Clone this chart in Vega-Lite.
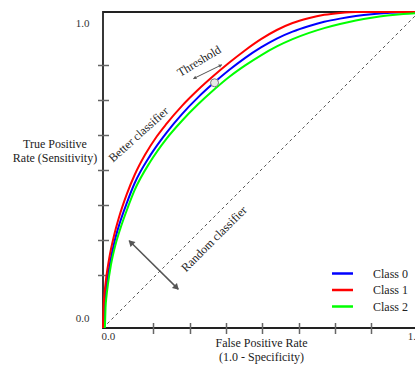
{
  "$schema": "https://vega.github.io/schema/vega-lite/v6.json",
  "width": 316,
  "height": 316,
  "autosize": {"type": "none"},
  "padding": {"left": 103, "top": 12, "right": 0, "bottom": 37},
  "background": "white",
  "config": {
    "font": "Liberation Serif",
    "view": {"stroke": "#222", "strokeWidth": 1.8},
    "axis": {"grid": false, "domain": false, "labelFont": "Liberation Serif", "titleFont": "Liberation Serif", "labelColor": "#333", "titleColor": "#222", "labelFontSize": 11, "titleFontSize": 12, "titleFontWeight": "normal", "tickColor": "#666", "tickWidth": 1.5, "tickSize": 11, "offset": -5.5, "labelOverlap": false, "tickCount": 20},
    "legend": {"labelFont": "Liberation Serif", "labelFontSize": 12, "labelColor": "#222"}
  },
  "datasets": {
    "curves": [
      {"series": "Class 0", "x": 0.003, "y": 0.0},
      {"series": "Class 0", "x": 0.005, "y": 0.066},
      {"series": "Class 0", "x": 0.008, "y": 0.105},
      {"series": "Class 0", "x": 0.013, "y": 0.149},
      {"series": "Class 0", "x": 0.023, "y": 0.21},
      {"series": "Class 0", "x": 0.037, "y": 0.276},
      {"series": "Class 0", "x": 0.052, "y": 0.329},
      {"series": "Class 0", "x": 0.077, "y": 0.4},
      {"series": "Class 0", "x": 0.1, "y": 0.458},
      {"series": "Class 0", "x": 0.15, "y": 0.547},
      {"series": "Class 0", "x": 0.2, "y": 0.617},
      {"series": "Class 0", "x": 0.25, "y": 0.677},
      {"series": "Class 0", "x": 0.3, "y": 0.729},
      {"series": "Class 0", "x": 0.35, "y": 0.775},
      {"series": "Class 0", "x": 0.4, "y": 0.817},
      {"series": "Class 0", "x": 0.45, "y": 0.855},
      {"series": "Class 0", "x": 0.5, "y": 0.888},
      {"series": "Class 0", "x": 0.55, "y": 0.916},
      {"series": "Class 0", "x": 0.6, "y": 0.938},
      {"series": "Class 0", "x": 0.65, "y": 0.955},
      {"series": "Class 0", "x": 0.7, "y": 0.969},
      {"series": "Class 0", "x": 0.75, "y": 0.979},
      {"series": "Class 0", "x": 0.8, "y": 0.987},
      {"series": "Class 0", "x": 0.85, "y": 0.993},
      {"series": "Class 0", "x": 0.9, "y": 0.997},
      {"series": "Class 0", "x": 0.95, "y": 0.999},
      {"series": "Class 0", "x": 1.0, "y": 1.0},
      {"series": "Class 1", "x": 0.0, "y": 0.0},
      {"series": "Class 1", "x": 0.002, "y": 0.0707},
      {"series": "Class 1", "x": 0.005, "y": 0.1116},
      {"series": "Class 1", "x": 0.01, "y": 0.1576},
      {"series": "Class 1", "x": 0.02, "y": 0.2222},
      {"series": "Class 1", "x": 0.035, "y": 0.2926},
      {"series": "Class 1", "x": 0.05, "y": 0.348},
      {"series": "Class 1", "x": 0.075, "y": 0.4227},
      {"series": "Class 1", "x": 0.1, "y": 0.4841},
      {"series": "Class 1", "x": 0.133, "y": 0.548},
      {"series": "Class 1", "x": 0.17, "y": 0.606},
      {"series": "Class 1", "x": 0.2, "y": 0.645},
      {"series": "Class 1", "x": 0.25, "y": 0.703},
      {"series": "Class 1", "x": 0.3, "y": 0.753},
      {"series": "Class 1", "x": 0.35, "y": 0.798},
      {"series": "Class 1", "x": 0.4, "y": 0.84},
      {"series": "Class 1", "x": 0.45, "y": 0.879},
      {"series": "Class 1", "x": 0.5, "y": 0.914},
      {"series": "Class 1", "x": 0.55, "y": 0.943},
      {"series": "Class 1", "x": 0.6, "y": 0.965},
      {"series": "Class 1", "x": 0.65, "y": 0.98},
      {"series": "Class 1", "x": 0.7, "y": 0.991},
      {"series": "Class 1", "x": 0.75, "y": 0.997},
      {"series": "Class 1", "x": 0.8, "y": 1.0},
      {"series": "Class 1", "x": 1.0, "y": 1.0},
      {"series": "Class 2", "x": 0.006, "y": 0.0},
      {"series": "Class 2", "x": 0.008, "y": 0.063},
      {"series": "Class 2", "x": 0.011, "y": 0.1},
      {"series": "Class 2", "x": 0.016, "y": 0.141},
      {"series": "Class 2", "x": 0.025, "y": 0.199},
      {"series": "Class 2", "x": 0.039, "y": 0.262},
      {"series": "Class 2", "x": 0.054, "y": 0.312},
      {"series": "Class 2", "x": 0.078, "y": 0.38},
      {"series": "Class 2", "x": 0.1, "y": 0.436},
      {"series": "Class 2", "x": 0.15, "y": 0.527},
      {"series": "Class 2", "x": 0.2, "y": 0.598},
      {"series": "Class 2", "x": 0.25, "y": 0.656},
      {"series": "Class 2", "x": 0.3, "y": 0.707},
      {"series": "Class 2", "x": 0.35, "y": 0.753},
      {"series": "Class 2", "x": 0.4, "y": 0.795},
      {"series": "Class 2", "x": 0.45, "y": 0.831},
      {"series": "Class 2", "x": 0.5, "y": 0.863},
      {"series": "Class 2", "x": 0.55, "y": 0.891},
      {"series": "Class 2", "x": 0.6, "y": 0.914},
      {"series": "Class 2", "x": 0.65, "y": 0.933},
      {"series": "Class 2", "x": 0.7, "y": 0.949},
      {"series": "Class 2", "x": 0.75, "y": 0.962},
      {"series": "Class 2", "x": 0.8, "y": 0.973},
      {"series": "Class 2", "x": 0.85, "y": 0.982},
      {"series": "Class 2", "x": 0.9, "y": 0.989},
      {"series": "Class 2", "x": 0.95, "y": 0.994},
      {"series": "Class 2", "x": 1.0, "y": 0.997}
    ],
    "diagonal": [{"x": 0, "y": 0}, {"x": 1, "y": 1}],
    "randomArrow": [{"x": 0.083, "y": 0.276, "x2": 0.238, "y2": 0.123}],
    "thresholdArrow": [{"x": 0.286, "y": 0.789, "x2": 0.376, "y2": 0.833}],
    "randomHeadEnd": [{"x": 0.233, "y": 0.128}],
    "randomHeadStart": [{"x": 0.088, "y": 0.271}],
    "thresholdHeadEnd": [{"x": 0.372, "y": 0.831}],
    "thresholdHeadStart": [{"x": 0.29, "y": 0.791}],
    "thresholdPoint": [{"x": 0.353, "y": 0.776}],
    "labelThreshold": [{"x": 0.304, "y": 0.845, "text": "Threshold"}],
    "labelBetter": [{"x": 0.1123, "y": 0.6123, "text": "Better classifier"}],
    "labelRandom": [{"x": 0.351, "y": 0.282, "text": "Random classifier"}]
  },
  "layer": [
    {
      "data": {"name": "diagonal"},
      "mark": {"type": "line", "color": "#555", "strokeWidth": 1, "strokeDash": [3, 3]},
      "encoding": {
        "x": {
          "field": "x", "type": "quantitative",
          "scale": {"domain": [0, 1], "nice": false, "zero": false},
          "axis": {
            "values": [0, 0.158, 0.275, 0.389, 0.503, 0.62, 0.734, 0.848, 1],
            "tickCount": 20,
            "labelExpr": "datum.value == 0 || datum.value == 1 ? format(datum.value, '.1f') : ''",
            "tickOpacity": {"condition": {"test": "datum.value == 0 || datum.value == 1", "value": 0}, "value": 1},
            "labelFlush": true,
            "labelFlushOffset": 2,
            "labelPadding": -3,
            "title": ["False Positive Rate", "(1.0 - Specificity)"],
            "titleLineHeight": 14,
            "titlePadding": -4
          }
        },
        "y": {
          "field": "y", "type": "quantitative",
          "scale": {"domain": [0, 1], "nice": false, "zero": false},
          "axis": {
            "values": [0, 0.1667, 0.2778, 0.3889, 0.5, 0.6111, 0.7222, 0.8333, 1],
            "tickCount": 20,
            "labelExpr": "datum.value == 0 || datum.value == 1 ? format(datum.value, '.1f') : ''",
            "tickOpacity": {"condition": {"test": "datum.value == 0 || datum.value == 1", "value": 0}, "value": 1},
            "labelFlush": true,
            "labelFlushOffset": -5,
            "labelPadding": 8.5,
            "title": ["True Positive", "Rate (Sensitivity)"],
            "titleAngle": 0,
            "titleAlign": "center",
            "titleBaseline": "middle",
            "titleLineHeight": 14,
            "titleX": -54,
            "titleY": 131
          }
        }
      }
    },
    {
      "data": {"name": "curves"},
      "mark": {"type": "line", "strokeWidth": 2, "interpolate": "monotone"},
      "encoding": {
        "x": {"field": "x", "type": "quantitative"},
        "y": {"field": "y", "type": "quantitative"},
        "color": {
          "field": "series", "type": "nominal",
          "scale": {"domain": ["Class 0", "Class 1", "Class 2"], "range": ["#0000ff", "#ff0000", "#00ff00"]},
          "legend": {
            "title": null, "orient": "none", "legendX": 233, "legendY": 255,
            "symbolType": "M-2,0H2", "symbolSize": 110, "symbolStrokeWidth": 2.5, "symbolFillColor": "transparent",
            "labelOffset": 24, "rowPadding": 3.5
          }
        }
      }
    },
    {
      "data": {"name": "randomArrow"},
      "mark": {"type": "rule", "color": "#555", "strokeWidth": 1.5},
      "encoding": {
        "x": {"field": "x", "type": "quantitative"}, "y": {"field": "y", "type": "quantitative"},
        "x2": {"field": "x2"}, "y2": {"field": "y2"}
      }
    },
    {
      "data": {"name": "randomHeadEnd"},
      "mark": {"type": "point", "shape": "triangle-up", "filled": true, "color": "#555", "size": 50, "angle": 135, "opacity": 1},
      "encoding": {"x": {"field": "x", "type": "quantitative"}, "y": {"field": "y", "type": "quantitative"}}
    },
    {
      "data": {"name": "randomHeadStart"},
      "mark": {"type": "point", "shape": "triangle-up", "filled": true, "color": "#555", "size": 50, "angle": 315, "opacity": 1},
      "encoding": {"x": {"field": "x", "type": "quantitative"}, "y": {"field": "y", "type": "quantitative"}}
    },
    {
      "data": {"name": "thresholdArrow"},
      "mark": {"type": "rule", "color": "#555", "strokeWidth": 1},
      "encoding": {
        "x": {"field": "x", "type": "quantitative"}, "y": {"field": "y", "type": "quantitative"},
        "x2": {"field": "x2"}, "y2": {"field": "y2"}
      }
    },
    {
      "data": {"name": "thresholdHeadEnd"},
      "mark": {"type": "point", "shape": "triangle-up", "filled": true, "color": "#555", "size": 14, "angle": 64, "opacity": 1},
      "encoding": {"x": {"field": "x", "type": "quantitative"}, "y": {"field": "y", "type": "quantitative"}}
    },
    {
      "data": {"name": "thresholdHeadStart"},
      "mark": {"type": "point", "shape": "triangle-up", "filled": true, "color": "#555", "size": 14, "angle": 244, "opacity": 1},
      "encoding": {"x": {"field": "x", "type": "quantitative"}, "y": {"field": "y", "type": "quantitative"}}
    },
    {
      "data": {"name": "thresholdPoint"},
      "mark": {"type": "point", "shape": "circle", "filled": true, "fill": "#e8e8e8", "stroke": "#777", "strokeWidth": 1, "size": 64, "opacity": 1},
      "encoding": {"x": {"field": "x", "type": "quantitative"}, "y": {"field": "y", "type": "quantitative"}}
    },
    {
      "data": {"name": "labelThreshold"},
      "mark": {"type": "text", "angle": -31, "fontSize": 12, "color": "#222", "align": "center", "baseline": "middle"},
      "encoding": {"x": {"field": "x", "type": "quantitative"}, "y": {"field": "y", "type": "quantitative"}, "text": {"field": "text"}}
    },
    {
      "data": {"name": "labelBetter"},
      "mark": {"type": "text", "angle": -42, "fontSize": 12, "color": "#222", "align": "center", "baseline": "middle"},
      "encoding": {"x": {"field": "x", "type": "quantitative"}, "y": {"field": "y", "type": "quantitative"}, "text": {"field": "text"}}
    },
    {
      "data": {"name": "labelRandom"},
      "mark": {"type": "text", "angle": -45, "fontSize": 12, "color": "#222", "align": "center", "baseline": "middle"},
      "encoding": {"x": {"field": "x", "type": "quantitative"}, "y": {"field": "y", "type": "quantitative"}, "text": {"field": "text"}}
    }
  ]
}
